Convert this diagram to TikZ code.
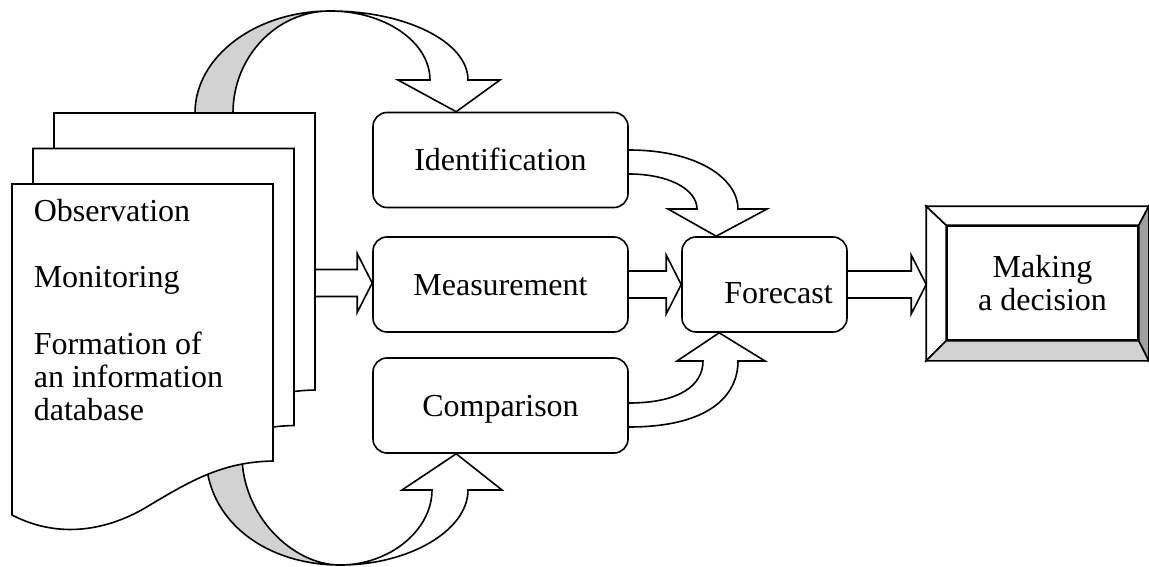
\documentclass[tikz,border=0pt]{standalone}
\usepackage{fontspec}
\setmainfont{Liberation Serif}
\usetikzlibrary{calc, backgrounds}

% straight hollow arrow from #1 to the x of #2
\newcommand\flatarrow[2]{%
  \draw[fill=white] let \p1=(#1), \p2=(#2) in
    (\x1,\y1+13.5pt) -- (\x2-15pt,\y1+13.5pt) -- (\x2-15pt,\y1+29.5pt)
    -- (\x2,\y1) -- (\x2-15pt,\y1-29.5pt) -- (\x2-15pt,\y1-13.5pt)
    -- (\x1,\y1-13.5pt);}

\begin{document}
\begin{tikzpicture}[x=1pt, y=-1pt, line width=1.6pt,
  font=\fontsize{32}{33}\selectfont,
  stepbox/.style={draw, rounded corners=14pt, inner sep=0pt,
    minimum height=95pt, text height=22pt, text depth=0pt},
  band/.style={fill=gray!35}]

  \useasboundingbox (0,0) rectangle (1149,567);

  % Process boxes
  \node[stepbox, minimum width=255pt] (ident) at (500.5,160) {Identification};
  \node[stepbox, minimum width=255pt] (measure) at (500.5,284.5) {Measurement};
  \node[stepbox, minimum width=255pt] (compare) at (500.5,405.5) {Comparison};
  \node[stepbox, minimum width=165pt, text height=37pt] (forecast) at (764.5,284.5)
    {\hspace*{28pt}Forecast};

  % Bevelled decision box
  \node[draw, minimum width=191pt, minimum height=114pt, inner sep=0pt,
        align=center] (decision) at (1042.5,283) {Making\\a decision};
  \coordinate (dnw) at ($(decision.north west)+(-20,-19)$);
  \coordinate (dsw) at ($(decision.south west)+(-20,20)$);
  \coordinate (dne) at ($(decision.north east)+(10,-19)$);
  \coordinate (dse) at ($(decision.south east)+(10,20)$);
  \filldraw[fill=white] (dnw) -- (dsw) -- (decision.south west) -- (decision.north west) -- cycle;
  \filldraw[fill=white] (dnw) -- (dne) -- (decision.north east) -- (decision.north west) -- cycle;
  \filldraw[fill=gray!35] (dsw) -- (dse) -- (decision.south east) -- (decision.south west) -- cycle;
  \filldraw[fill=gray!75] (dne) -- (dse) -- (decision.south east) -- (decision.north east) -- cycle;

  % Stack of documents
  \foreach \dx/\dy in {42/-71, 21/-35.5, 0/0}
    \filldraw[fill=white, shift={(\dx,\dy)}]
      (12,184) -- (273,184) -- (273,461)
      .. controls (225,462) and (195,478) .. (150,505)
      .. controls (110,530) and (60,540) .. (12,515) -- cycle;
  \coordinate (docR) at (315,283);

  \node[anchor=base west, inner sep=0pt] (obs) at (33,222) {Observation};
  \node[anchor=base west, inner sep=0pt] (mon) at (33,287) {Monitoring};
  \node[anchor=base west, inner sep=0pt, align=left] (form) at (33,420)
    {Formation of\\an information\\database};

  % Arrow tips on the boxes
  \coordinate (tipI) at ($(ident.north west)+(84,0)$);
  \coordinate (tipC) at ($(compare.south west)+(84,0)$);
  \coordinate (tipF) at ($(forecast.north west)+(35,0)$);
  \coordinate (tipG) at ($(forecast.south west)+(38,0)$);

  \begin{scope}[on background layer={line width=1.6pt}]
    % ribbon over the top
    \filldraw[band] (195,113) .. controls (195,56.7) and (255.5,11) .. (330,11)
      .. controls (276.5,11) and (233,56.7) .. (233,113) -- cycle;
    \filldraw[fill=white] (330,11) .. controls (406,11) and (468,42) .. (468,80)
      -- (500,80) -- (tipI) -- (398,80) -- (430,80)
      .. controls (430,42) and (385,11) .. (330,11) -- cycle;

    % ribbon underneath
    \filldraw[band] (206,455) .. controls (206,520) and (265,565) .. (340,565)
      .. controls (292,565) and (242,515) .. (242,455) -- cycle;
    \filldraw[fill=white] (340,565) .. controls (410,565) and (468,530) .. (468,490)
      -- (502,490) -- (tipC) -- (402,490) -- (432,490)
      .. controls (432,530) and (390,565) .. (340,565) -- cycle;

    % curved arrows into the forecast
    \draw[fill=white] ($(ident.east)+(0,-10)$) .. controls (700,150) and (738,180) .. (738,209)
      -- (767,209) -- (tipF) -- (668,209) -- (697,209)
      .. controls (697,190) and (670,174) .. ($(ident.east)+(0,14)$);
    \draw[fill=white] ($(compare.east)+(0,-2.5)$) .. controls (680,403) and (703,385) .. (703,361)
      -- (677,361) -- (tipG) -- (765,361) -- (738,361)
      .. controls (738,395) and (710,427) .. ($(compare.east)+(0,21.5)$);

    % straight arrows
    \flatarrow{docR}{measure.west}
    \flatarrow{measure.east}{forecast.west}
    \flatarrow{forecast.east}{dnw}
  \end{scope}

\end{tikzpicture}
\end{document}
